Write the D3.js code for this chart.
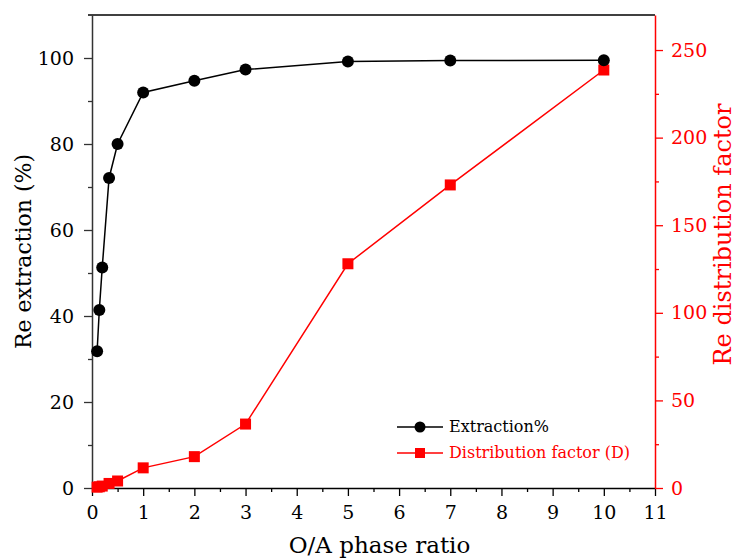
<!DOCTYPE html>
<html><head><meta charset="utf-8">
<script src="https://cdn.jsdelivr.net/npm/d3@7/dist/d3.min.js"></script>
<style>body{margin:0;background:#fff}svg{display:block}text{font-family:"DejaVu Serif","Liberation Serif",serif}</style>
</head><body>
<svg id="c" width="737" height="559"></svg>
<script>
const ratios = [0.1, 1/7, 0.2, 1/3, 0.5, 1, 2, 3, 5, 7, 10];
const extraction = [31.8, 41.4, 51.3, 72.1, 80.0, 92.0, 94.7, 97.3, 99.2, 99.4, 99.5];
const distribution = [0.5, 0.7, 1.1, 2.6, 4.0, 11.5, 17.9, 36.5, 128, 173, 238.6];
const xTicks = [0,1,2,3,4,5,6,7,8,9,10,11];
const yLeftTicks = [0,20,40,60,80,100];
const yRightTicks = [0,50,100,150,200,250];
const legendLabels = ["Extraction%", "Distribution factor (D)"];

const W=737,H=559, L=92, R=655, T=15, B=488;
const svg=d3.select("#c");
const x=d3.scaleLinear().domain([0,11]).range([L,R]);
const yL=d3.scaleLinear().domain([0,110]).range([B,T]);
const yR=d3.scaleLinear().domain([0,270]).range([B,T]);
const red="#ff0000";
const fs=19;

svg.append("line").attr("x1",L-4).attr("x2",R).attr("y1",T).attr("y2",T).attr("stroke","#000").attr("stroke-width",1.5);

function styleAxis(g,color){
  g.selectAll("path").attr("stroke",color).attr("stroke-width",1.5);
  g.selectAll("line").attr("stroke",color).attr("stroke-width",1.3);
  g.selectAll("text").attr("fill",color).style("font-size",fs+"px");
}
const gx=svg.append("g").attr("transform",`translate(0,${B})`);
gx.call(d3.axisBottom(x).tickValues(d3.range(0.5,11,1)).tickSize(4).tickFormat(""));
gx.call(g=>g.selectAll("path").remove());
gx.selectAll("line").attr("stroke","#000").attr("stroke-width",1.3);
const gx2=svg.append("g").attr("transform",`translate(0,${B})`)
  .call(d3.axisBottom(x).tickValues(xTicks).tickSize(8).tickSizeOuter(0).tickPadding(10).tickFormat(d3.format("d")));
styleAxis(gx2,"#000");

const gl=svg.append("g").attr("transform",`translate(${L},0)`);
gl.call(d3.axisLeft(yL).tickValues(d3.range(10,110,20)).tickSize(4).tickFormat(""));
gl.call(g=>g.selectAll("path").remove());
gl.selectAll("line").attr("stroke","#333").attr("stroke-width",1.3);
const gl2=svg.append("g").attr("transform",`translate(${L},0)`)
  .call(d3.axisLeft(yL).tickValues(yLeftTicks).tickSize(8).tickSizeOuter(0).tickPadding(10));
styleAxis(gl2,"#333");
gl2.selectAll("text").attr("fill","#000");

const gr=svg.append("g").attr("transform",`translate(${R},0)`);
gr.call(d3.axisRight(yR).tickValues(d3.range(25,270,50)).tickSize(4).tickFormat(""));
gr.call(g=>g.selectAll("path").remove());
gr.selectAll("line").attr("stroke",red).attr("stroke-width",1.3);
const gr2=svg.append("g").attr("transform",`translate(${R},0)`)
  .call(d3.axisRight(yR).tickValues(yRightTicks).tickSize(8).tickSizeOuter(0).tickPadding(8));
styleAxis(gr2,red);

svg.append("text").attr("x",(L+R)/2+6).attr("y",553).attr("text-anchor","middle").style("font-size","23px").text("O/A phase ratio");
svg.append("text").attr("transform",`translate(25,${(T+B)/2}) rotate(-90)`).attr("text-anchor","middle").attr("dominant-baseline","middle").style("font-size","22px").text("Re extraction (%)");
svg.append("text").attr("transform",`translate(724,${(T+B)/2-17}) rotate(-90)`).attr("text-anchor","middle").attr("dominant-baseline","middle").attr("fill",red).style("font-size","24px").text("Re distribution factor");

const ext=ratios.map((r,i)=>({x:r,y:extraction[i]}));
const dis=ratios.map((r,i)=>({x:r,y:distribution[i]}));
svg.append("path").datum(dis).attr("fill","none").attr("stroke",red).attr("stroke-width",1.5)
  .attr("d",d3.line().x(d=>x(d.x)).y(d=>yR(d.y)));
svg.append("path").datum(ext).attr("fill","none").attr("stroke","#000").attr("stroke-width",1.5)
  .attr("d",d3.line().x(d=>x(d.x)).y(d=>yL(d.y)));
const s=11;
svg.selectAll("rect.d").data(dis).join("rect").attr("class","d")
  .attr("x",d=>x(d.x)-s/2).attr("y",d=>yR(d.y)-s/2).attr("width",s).attr("height",s).attr("fill",red);
svg.selectAll("circle.e").data(ext).join("circle").attr("class","e")
  .attr("cx",d=>x(d.x)).attr("cy",d=>yL(d.y)).attr("r",6).attr("fill","#000");

const lg=svg.append("g");
[0,1].forEach(i=>{
  const yy=[427,453][i], col=i?red:"#000";
  lg.append("line").attr("x1",397).attr("x2",443).attr("y1",yy).attr("y2",yy).attr("stroke",col).attr("stroke-width",1.5);
  if(i) lg.append("rect").attr("x",420-5).attr("y",yy-5).attr("width",10).attr("height",10).attr("fill",red);
  else lg.append("circle").attr("cx",420).attr("cy",yy).attr("r",5.5).attr("fill","#000");
  lg.append("text").attr("x",449).attr("y",yy).attr("dominant-baseline","middle").attr("fill",col).style("font-size","16px").text(legendLabels[i]);
});
</script>
</body></html>
